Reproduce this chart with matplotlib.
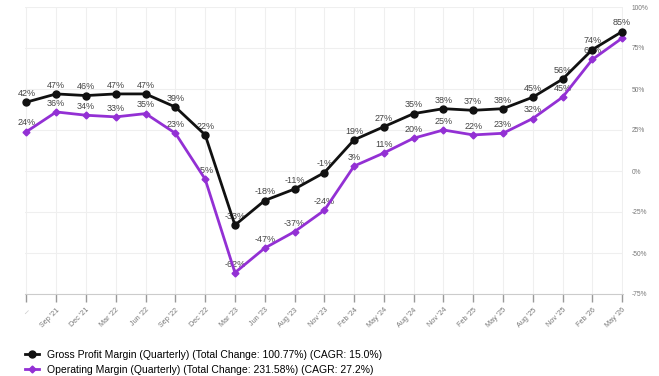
import matplotlib
matplotlib.use("Agg")
import matplotlib.pyplot as plt
from matplotlib.ticker import FuncFormatter

plt.rcParams['font.family'] = ['Liberation Sans', 'DejaVu Sans']

quarters = ["...", "Sep '21", "Dec '21", "Mar '22", "Jun '22", "Sep '22", "Dec '22",
            "Mar '23", "Jun '23", "Aug '23", "Nov '23", "Feb '24", "May '24",
            "Aug '24", "Nov '24", "Feb '25", "May '25", "Aug '25", "Nov '25",
            "Feb '26", "May '26"]
gross_margin = [42, 47, 46, 47, 47, 39, 22, -33, -18, -11, -1, 19, 27, 35, 38,
                37, 38, 45, 56, 74, 85]
operating_margin = [24, 36, 34, 33, 35, 23, -5, -62, -47, -37, -24, 3, 11, 20,
                    25, 22, 23, 32, 45, 68, 81]

gross_label = "Gross Profit Margin (Quarterly) (Total Change: 100.77%) (CAGR: 15.0%)"
oper_label = "Operating Margin (Quarterly) (Total Change: 231.58%) (CAGR: 27.2%)"

black = '#111111'
purple = '#9330d4'
grid_c = '#efefef'

fig = plt.figure(figsize=(6.59, 3.76), dpi=100)
ax = fig.add_axes([25 / 659, 82 / 376, 598 / 659, 287 / 376])

x = list(range(len(quarters)))
l1, = ax.plot(x, gross_margin, color=black, lw=2, marker='o', ms=5,
              zorder=4, label=gross_label, clip_on=False)
l2, = ax.plot(x, operating_margin, color=purple, lw=2, marker='D', ms=3.5,
              zorder=3, label=oper_label, clip_on=False)

for xi, v in zip(x, gross_margin):
    ax.annotate(f"{v}%", (xi, v), xytext=(0, 3), textcoords='offset points',
                ha='center', va='bottom', fontsize=6.5, color='#444444', zorder=1)
# last operating label is hidden under the gross marker in the original
for xi, v in zip(x[:-1], operating_margin[:-1]):
    ax.annotate(f"{v}%", (xi, v), xytext=(0, 3), textcoords='offset points',
                ha='center', va='bottom', fontsize=6.5, color='#444444', zorder=1)

ax.set_xlim(-0.05, 20.03)
ax.set_ylim(-75, 100)
ax.set_yticks(range(-75, 101, 25))
ax.yaxis.set_major_formatter(FuncFormatter(lambda v, p: f"{int(v)}%"))
ax.yaxis.tick_right()
ax.tick_params(axis='y', length=0, labelsize=4.8, labelcolor='#777777', pad=6)

ax.set_xticks(x)
ax.set_xticklabels(quarters, rotation=45, ha='right', rotation_mode='anchor')
ax.tick_params(axis='x', length=6, width=1, color='#999999', labelsize=5.2,
               labelcolor='#777777', pad=3)

ax.grid(True, color=grid_c, lw=0.8)
ax.set_axisbelow(True)
for s in ['top', 'left', 'right']:
    ax.spines[s].set_visible(False)
ax.spines['bottom'].set_color('#cccccc')
ax.spines['bottom'].set_linewidth(0.8)

fig.legend(handles=[l1, l2], loc='upper left', bbox_to_anchor=(25 / 659, 1 - 350 / 376),
           frameon=False, fontsize=7.5, handlelength=1.3, handletextpad=0.8,
           labelspacing=0.45, borderpad=0, borderaxespad=0)

fig.savefig('out.png', dpi=100)
